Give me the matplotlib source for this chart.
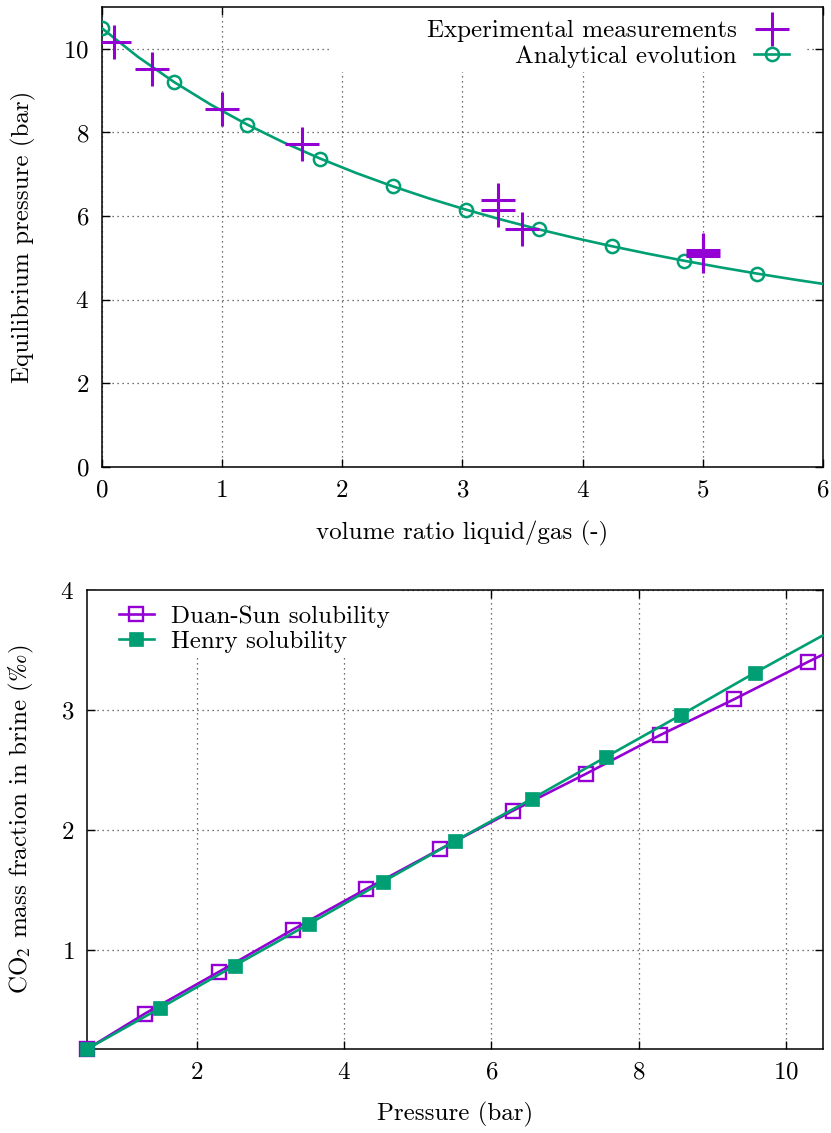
import matplotlib
matplotlib.use('Agg')
import matplotlib.pyplot as plt
from matplotlib.lines import Line2D
from matplotlib.patches import Rectangle

# ---------------- data: top panel ----------------
ratio_exp = [0.10, 0.42, 1.00, 1.67, 3.30, 3.30, 3.50, 5.00, 5.00, 5.00]
pres_exp = [10.16, 9.52, 8.57, 7.73, 6.39, 6.15, 5.70, 5.18, 5.12, 5.05]

ratio_curve = [0.000, 0.303, 0.606, 0.909, 1.212, 1.515, 1.818, 2.121, 2.424,
               2.727, 3.030, 3.333, 3.636, 3.939, 4.242, 4.545, 4.848, 5.151,
               5.454, 5.757, 6.000]
pres_curve = [10.50, 9.808, 9.201, 8.665, 8.188, 7.761, 7.376, 7.027, 6.710,
              6.420, 6.155, 5.910, 5.684, 5.475, 5.281, 5.100, 4.931, 4.772,
              4.624, 4.484, 4.379]

top_xticks = [0, 1, 2, 3, 4, 5, 6]
top_yticks = [0, 2, 4, 6, 8, 10]

# ---------------- data: bottom panel ----------------
duan_p = [0.50, 1.29, 2.30, 3.30, 4.29, 5.30, 6.29, 7.29, 8.29, 9.30, 10.30, 10.50]
duan_w = [0.173, 0.47, 0.82, 1.17, 1.506, 1.84, 2.16, 2.47, 2.79, 3.09, 3.40, 3.46]

henry_p = [0.50, 1.50, 2.51, 3.52, 4.53, 5.51, 6.55, 7.56, 8.58, 9.58, 10.50]
henry_w = [0.173, 0.517, 0.87, 1.217, 1.57, 1.91, 2.26, 2.61, 2.96, 3.31, 3.62]

bot_xticks = [2, 4, 6, 8, 10]
bot_yticks = [1, 2, 3, 4]

PURPLE = '#9400D3'
GREEN = '#009E73'

plt.rcParams['font.family'] = 'serif'
plt.rcParams['font.serif'] = ['cmr10']
plt.rcParams['mathtext.fontset'] = 'cm'
plt.rcParams['axes.formatter.use_mathtext'] = True
plt.rcParams['axes.unicode_minus'] = False
FS = 18

W, H = 831, 1133
fig = plt.figure(figsize=(W / 100, H / 100), dpi=100)


def px_axes(left, right, top, bottom):
    return fig.add_axes([left / W, 1 - bottom / H, (right - left) / W, (bottom - top) / H])


def style(ax):
    for s in ax.spines.values():
        s.set_linewidth(1.1)
    ax.tick_params(direction='in', length=6, width=1, top=True, right=True,
                   labelsize=FS, pad=9)
    ax.grid(True, color='#444444', linestyle=(0, (1, 3)), linewidth=0.9)
    ax.set_axisbelow(True)


# ---------------- top panel ----------------
ax1 = px_axes(101.5, 823, 7, 467)
style(ax1)
# opaque key area (hides grid behind the key)
ax1.add_patch(Rectangle((0.318, 0.8587), 0.976 - 0.318, 1 - 0.8587,
                        transform=ax1.transAxes, facecolor='white',
                        edgecolor='none', zorder=1))
ax1.plot(ratio_curve, pres_curve, color=GREEN, lw=1.9, marker='o', ms=9.5,
         mfc='none', mew=1.8, markevery=list(range(0, 20, 2)), zorder=3)
ax1.plot(ratio_exp, pres_exp, linestyle='none', marker='+', ms=24, mew=2.2,
         color=PURPLE, zorder=4)
ax1.set_xlim(0, 6)
ax1.set_ylim(0, 11)
ax1.set_xticks(top_xticks)
ax1.set_yticks(top_yticks)
ax1.set_xlabel('volume ratio liquid/gas (-)', fontsize=FS)
ax1.set_ylabel('Equilibrium pressure (bar)', fontsize=FS)
ax1.xaxis.label.set_va('center')
ax1.yaxis.label.set_va('center')
ax1.xaxis.set_label_coords(0.5, -0.1435)
ax1.yaxis.set_label_coords(-0.108, 0.5)

h_exp = Line2D([], [], linestyle='none', marker='+', ms=24, mew=2.2, color=PURPLE)
h_ana = Line2D([], [], color=GREEN, lw=1.9, marker='o', ms=9.5, mfc='none', mew=1.8)
leg1 = ax1.legend([h_exp, h_ana], ['Experimental measurements', 'Analytical evolution'],
                  loc='upper right', bbox_to_anchor=(0.967, 0.9935), borderaxespad=0,
                  markerfirst=False, fontsize=FS, frameon=False,
                  handlelength=1.4, handletextpad=0.7, labelspacing=0.12,
                  borderpad=0.4, numpoints=1)

# ---------------- bottom panel ----------------
ax2 = px_axes(86.7, 822.5, 590, 1049.3)
style(ax2)
ax2.add_patch(Rectangle((0.0, 0.8585), 0.426, 1 - 0.8585,
                        transform=ax2.transAxes, facecolor='white',
                        edgecolor='none', zorder=1))
ax2.plot(duan_p, duan_w, color=PURPLE, lw=1.9, marker='s', ms=10, mfc='none',
         mew=1.7, markevery=list(range(0, len(duan_p) - 1)), zorder=3,
         clip_on=False)
ax2.plot(henry_p, henry_w, color=GREEN, lw=1.9, marker='s', ms=10, mew=0.5,
         markevery=list(range(0, len(henry_p) - 1)), zorder=4, clip_on=False)
ax2.set_xlim(0.5, 10.5)
ax2.set_ylim(0.173, 4)
ax2.set_xticks(bot_xticks)
ax2.set_yticks(bot_yticks)
ax2.set_xlabel('Pressure (bar)', fontsize=FS)
ax2.set_ylabel('CO$_2$ mass fraction in brine ($\\mathrm{\u2030}$)', fontsize=FS,
               math_fontfamily='stix')
ax2.xaxis.label.set_va('center')
ax2.yaxis.label.set_va('center')
ax2.xaxis.set_label_coords(0.5, -0.141)
ax2.yaxis.set_label_coords(-0.088, 0.5)

h_duan = Line2D([], [], color=PURPLE, lw=1.9, marker='s', ms=10, mfc='none', mew=1.7)
h_henry = Line2D([], [], color=GREEN, lw=1.9, marker='s', ms=10, mew=0.5)
leg2 = ax2.legend([h_duan, h_henry], ['Duan-Sun solubility', 'Henry solubility'],
                  loc='upper left', bbox_to_anchor=(0.03, 0.989), borderaxespad=0,
                  fontsize=FS, frameon=False, handlelength=1.4,
                  handletextpad=0.7, labelspacing=0.12, borderpad=0.4, numpoints=1)

fig.savefig('out.png', dpi=100)
